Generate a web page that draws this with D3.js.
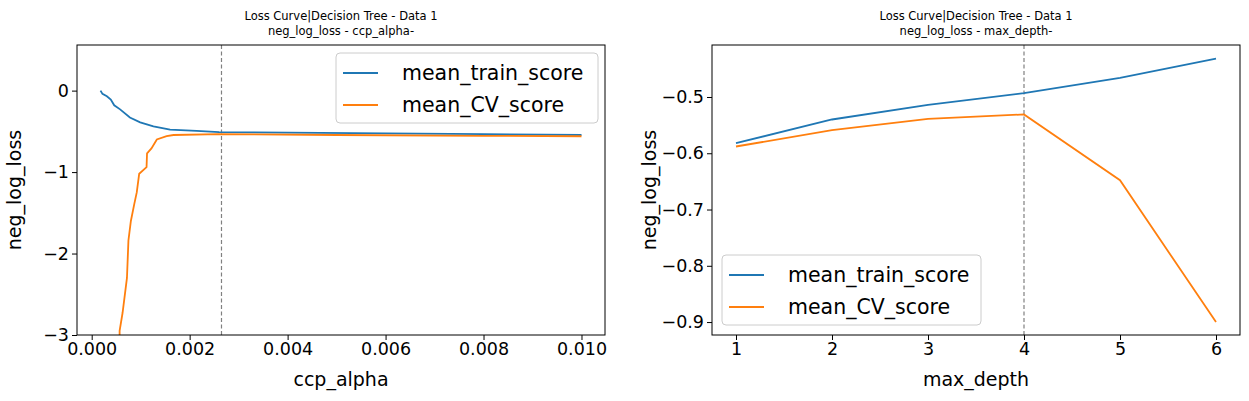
<!DOCTYPE html>
<html><head><meta charset="UTF-8">
<script src="https://d3js.org/d3.v7.min.js"></script>
<style>body{margin:0;background:#fff}text{font-family:"DejaVu Sans",sans-serif}</style>
</head><body>
<svg id="c" width="1249" height="401"></svg>
<script>
// left panel: ccp_alpha
const ccpTrain = [[0.00018,0.0],[0.00022,-0.04],[0.00031,-0.07],[0.00039,-0.11],[0.00046,-0.18],[0.00058,-0.23],[0.00078,-0.33],[0.00099,-0.39],[0.00126,-0.44],[0.0016,-0.48],[0.00214,-0.495],[0.0026,-0.51],[0.004,-0.515],[0.006,-0.525],[0.008,-0.535],[0.01,-0.545]];
const ccpCV = [[0.00057,-3.2],[0.00057,-2.95],[0.00063,-2.73],[0.00072,-2.30],[0.00075,-1.84],[0.0008,-1.60],[0.00087,-1.39],[0.00092,-1.25],[0.00097,-1.02],[0.00112,-0.94],[0.00113,-0.77],[0.00122,-0.71],[0.00133,-0.60],[0.00153,-0.56],[0.00167,-0.545],[0.0026,-0.535],[0.005,-0.545],[0.008,-0.555],[0.01,-0.56]];
const ccpBest = 0.00265;
// right panel: max_depth
const depths = [1,2,3,4,5,6];
const depthTrain = [-0.582,-0.540,-0.514,-0.493,-0.466,-0.432];
const depthCV = [-0.588,-0.559,-0.539,-0.531,-0.648,-0.900];
const depthBest = 4;

const svg = d3.select("#c");
const blue = "#1f77b4", orange = "#ff7f0e";

function panel(o) {
  const x = d3.scaleLinear().domain(o.xd).range([o.l, o.r]);
  const y = d3.scaleLinear().domain(o.yd).range([335, 45]);
  const g = svg.append("g");
  const cp = "cp" + o.l;
  g.append("clipPath").attr("id", cp).append("rect").attr("x", o.l).attr("y", 45).attr("width", o.r - o.l).attr("height", 290);
  const line = d3.line().x(d => x(d[0])).y(d => y(d[1]));
  g.append("line").attr("x1", x(o.best)).attr("x2", x(o.best)).attr("y1", 45).attr("y2", 335)
    .attr("stroke", "#808080").attr("stroke-width", 1.2).attr("stroke-dasharray", "4,2.5");
  g.append("path").attr("d", line(o.train)).attr("fill", "none").attr("stroke", blue).attr("stroke-width", 1.8).attr("clip-path", `url(#${cp})`);
  g.append("path").attr("d", line(o.cv)).attr("fill", "none").attr("stroke", orange).attr("stroke-width", 1.8).attr("clip-path", `url(#${cp})`);
  const xa = g.append("g").attr("transform", "translate(0,335)").call(d3.axisBottom(x).tickValues(o.xt).tickFormat(o.xf).tickSize(5).tickSizeOuter(0));
  const ya = g.append("g").attr("transform", `translate(${o.l},0)`).call(d3.axisLeft(y).tickValues(o.yt).tickFormat(o.yf).tickSize(5).tickSizeOuter(0));
  [xa, ya].forEach(a => { a.selectAll("text").attr("font-size", 17.5).attr("fill", "#000"); a.selectAll("line").attr("stroke", "#000"); a.select(".domain").remove(); });
  g.append("rect").attr("x", o.l).attr("y", 45).attr("width", o.r - o.l).attr("height", 290).attr("fill", "none").attr("stroke", "#000").attr("stroke-width", 1);
  const cx = (o.l + o.r) / 2;
  g.append("text").attr("x", cx).attr("y", 20).attr("text-anchor", "middle").attr("font-size", 11.5).text("Loss Curve|Decision Tree - Data 1");
  g.append("text").attr("x", cx).attr("y", 35).attr("text-anchor", "middle").attr("font-size", 11.5).text(o.sub);
  g.append("text").attr("x", cx).attr("y", 386).attr("text-anchor", "middle").attr("font-size", 19).text(o.xl);
  g.append("text").attr("transform", `translate(${o.l - 56},190) rotate(-90)`).attr("text-anchor", "middle").attr("font-size", 19).text("neg_log_loss");
  const lg = g.append("g").attr("transform", `translate(${o.lx},${o.ly})`);
  lg.append("rect").attr("width", o.lw).attr("height", 70).attr("rx", 4).attr("fill", "#fff").attr("fill-opacity", 0.8).attr("stroke", "#ccc");
  [["mean_train_score", blue], ["mean_CV_score", orange]].forEach((e, i) => {
    const yy = 20 + i * 32;
    lg.append("line").attr("x1", 7).attr("x2", 42).attr("y1", yy).attr("y2", yy).attr("stroke", e[1]).attr("stroke-width", 1.8);
    lg.append("text").attr("x", 66).attr("y", yy + 7).attr("font-size", 20.5).text(e[0]);
  });
}

panel({ l: 77, r: 605, xd: [-0.0003, 0.01048], yd: [-3, 0.56], train: ccpTrain, cv: ccpCV, best: ccpBest,
  xt: [0, 0.002, 0.004, 0.006, 0.008, 0.01], xf: d3.format(".3f"), yt: [0, -1, -2, -3], yf: d => d === 0 ? "0" : "\u2212" + Math.abs(d),
  sub: "neg_log_loss - ccp_alpha-", xl: "ccp_alpha", lx: 336, ly: 53, lw: 262 });

panel({ l: 712, r: 1240, xd: [0.75, 6.25], yd: [-0.923, -0.4076],
  train: depths.map((d, i) => [d, depthTrain[i]]), cv: depths.map((d, i) => [d, depthCV[i]]), best: depthBest,
  xt: depths, xf: d3.format("d"), yt: [-0.5, -0.6, -0.7, -0.8, -0.9], yf: d => "\u2212" + Math.abs(d).toFixed(1),
  sub: "neg_log_loss - max_depth-", xl: "max_depth", lx: 722, ly: 255, lw: 259 });
</script>
</body></html>
